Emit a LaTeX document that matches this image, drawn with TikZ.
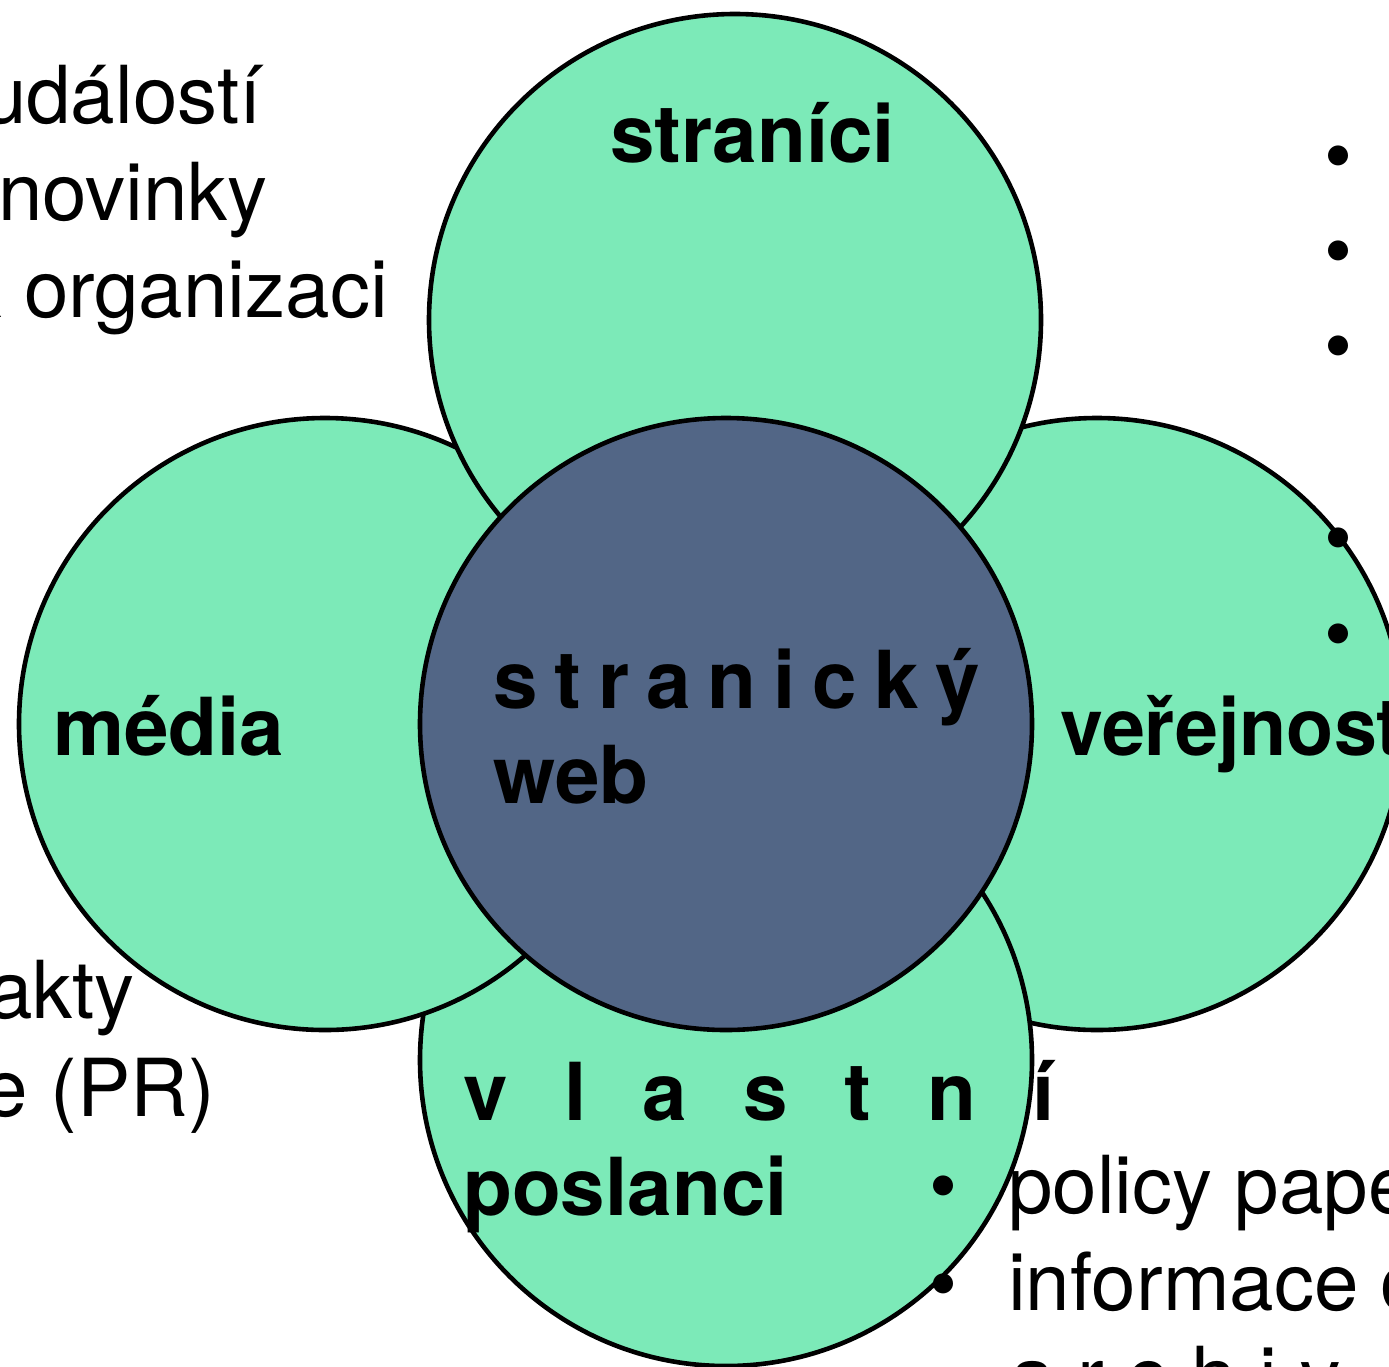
\documentclass[tikz,border=0pt]{standalone}
\usepackage{fontspec}
\setmainfont{TeX Gyre Heros}
\definecolor{petal}{RGB}{124,234,184}
\definecolor{core}{RGB}{82,102,134}
\begin{document}
\begin{tikzpicture}[x=1pt,y=-1pt,
  disc/.style={circle, draw=black, line width=4.6pt, minimum size=612pt, inner sep=0pt, fill=petal},
  lbl/.style={inner sep=0pt, anchor=base west, font=\bfseries\fontsize{80}{96}\selectfont},
  txt/.style={inner sep=0pt, font=\fontsize{80}{96}\selectfont},
  bul/.style={inner sep=0pt, anchor=base, font=\fontsize{80}{96}\selectfont}]
\useasboundingbox (0,0) rectangle (1389,1366);
\clip (0,0) rectangle (1389,1366);
% circles (back to front)
\node[disc] (right) at (1097,724) {};
\node[disc] (bottom) at (726,1060) {};
\node[disc] (left) at (325,724) {};
\node[disc] (top) at (735,320) {};
\node[disc, fill=core] (center) at (726,724) {};
% labels
\node[lbl] (ltop) at (610,162) {straníci};
\node[lbl] (lleft) at (53,755) {média};
\node[lbl] (lright) at (1060,755) {\scalebox{0.965}[1]{veřejnost}};
\node[lbl] (lcenter1) at (493,708) {\makebox[487pt][s]{s\hfill t\hfill r\hfill a\hfill n\hfill i\hfill c\hfill k\hfill ý}};
\node[lbl] (lcenter2) at (493,803) {web};
\node[lbl] (lbottom1) at (463,1120) {\makebox[592pt][s]{v\hfill l\hfill a\hfill s\hfill t\hfill n\hfill í}};
\node[lbl] (lbottom2) at (463,1215) {poslanci};
% left texts (cut at the left edge)
\node[txt, anchor=base east] (t1) at (262,123) {událostí};
\node[txt, anchor=base east] (t2) at (268,220) {novinky};
\node[txt, anchor=base east] (t3) at (388,317) {k organizaci};
\node[txt, anchor=base east] (t4) at (135,1018) {akty};
\node[txt, anchor=base east] (t5) at (215,1116) {e (PR)};
% right bullets
\node[bul] (b1) at (1338,183) {•};
\node[bul] (b2) at (1338,278) {•};
\node[bul] (b3) at (1338,373) {•};
\node[bul] (b4) at (1338,565) {•};
\node[bul] (b5) at (1338,661) {•};
% bottom right list
\node[bul] (b6) at (943,1213) {•};
\node[bul] (b7) at (943,1311) {•};
\node[txt, anchor=base west] (t6) at (1008,1213) {policy pape};
\node[txt, anchor=base west] (t7) at (1008,1310) {informace o};
\node[txt, anchor=base west] (t8) at (1010,1404) {\makebox[330pt][s]{a\hfill r\hfill c\hfill h\hfill i\hfill v}};
\end{tikzpicture}
\end{document}
